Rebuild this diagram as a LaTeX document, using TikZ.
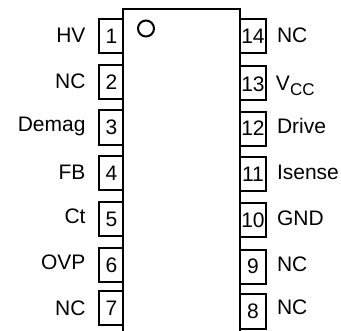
\documentclass[tikz,border=0pt]{standalone}
\usepackage{fontspec}
\setmainfont{Liberation Sans}
\tikzset{
  ink/.style={draw=black,line width=2pt},
  txt/.style={inner sep=0pt,outer sep=0pt,font=\fontsize{21}{24}\selectfont,text=black},
  lbl/.style={txt,anchor=base east},
  lbr/.style={txt,anchor=base west},
  num/.style={txt,anchor=base}
}
\newcommand{\pinbox}[4]{\draw[ink] (#1,#2) rectangle (#3,#4);}
\begin{document}
\begin{tikzpicture}[x=1pt,y=-1pt]
\useasboundingbox (0,0) rectangle (341,331);
\draw[ink] (123,331) -- (123,9) -- (240,9) -- (240,331);
\draw[ink] (146,28.5) circle (8);
% left pins
\pinbox{98.5}{19.5}{123}{53.5}
\pinbox{98.5}{65}{123}{99}
\pinbox{98.5}{110.5}{123}{145}
\pinbox{98.5}{156}{123}{190}
\pinbox{98.5}{202}{123}{236}
\pinbox{98.5}{248}{123}{282}
\pinbox{98.5}{291}{123}{325}
% right pins
\pinbox{240}{19.5}{266}{53.5}
\pinbox{240}{66.5}{266}{100.5}
\pinbox{240}{112}{266}{146}
\pinbox{240}{157}{266}{191}
\pinbox{240}{203}{266}{237}
\pinbox{240}{250}{266}{284}
\pinbox{240}{294}{266}{329}
% numbers
\node[num] (n1) at (111.5,44) {1};
\node[num] (n2) at (111.5,89.3) {2};
\node[num] (n3) at (111.5,134.7) {3};
\node[num] (n4) at (111.5,180.3) {4};
\node[num] (n5) at (111.5,226.7) {5};
\node[num] (n6) at (111.5,272.7) {6};
\node[num] (n7) at (111.5,315.7) {7};
\node[num] (n14) at (253,43.3) {14};
\node[num] (n13) at (253,91.7) {13};
\node[num] (n12) at (253,136) {12};
\node[num] (n11) at (253,181.7) {11};
\node[num] (n10) at (253,227.7) {10};
\node[num] (n9) at (253,273.3) {9};
\node[num] (n8) at (253,318.3) {8};
% left labels
\node[lbl] (l1) at (85.5,42.7) {HV};
\node[lbl] (l2) at (85.5,88.5) {NC};
\node[lbl] (l3) at (85.5,132) {Demag};
\node[lbl] (l4) at (85.5,179.7) {FB};
\node[lbl] (l5) at (85.5,224) {Ct};
\node[lbl] (l6) at (85.5,269.7) {OVP};
\node[lbl] (l7) at (85.5,316) {NC};
% right labels
\node[lbr] (r14) at (277,42.3) {NC};
\node[lbr] (r13) at (276,91) {V\raisebox{-5pt}{\fontsize{17}{20}\selectfont CC}};
\node[lbr] (r12) at (277,134) {Drive};
\node[lbr] (r11) at (277,179.3) {Isense};
\node[lbr] (r10) at (277,225.7) {GND};
\node[lbr] (r9) at (277,271.7) {NC};
\node[lbr] (r8) at (277,315) {NC};
\end{tikzpicture}
\end{document}
